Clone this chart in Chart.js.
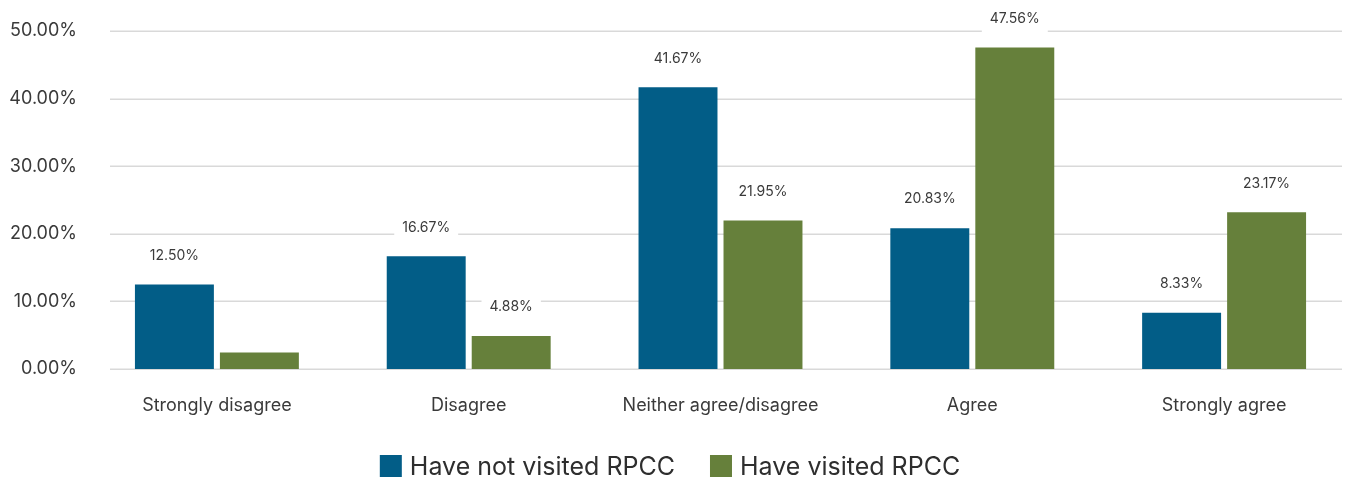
<!DOCTYPE html>
<html>
<head>
<meta charset="utf-8">
<script src="https://cdn.jsdelivr.net/npm/chart.js@4.4.0/dist/chart.umd.min.js"></script>
<style>
html,body{margin:0;padding:0;background:#fff;overflow:hidden;}
#wrap{width:1350px;height:479px;}
</style>
</head>
<body>
<div id="wrap"><canvas id="c" width="1350" height="479"></canvas></div>
<script>
const categories = ["Strongly disagree", "Disagree", "Neither agree/disagree", "Agree", "Strongly agree"];
const notVisited = [12.50, 16.67, 41.67, 20.83, 8.33];
const visited = [2.44, 4.88, 21.95, 47.56, 23.17];
const notVisitedShowLabel = [true, true, true, true, true];
const visitedShowLabel = [false, true, true, true, true];
const seriesNames = ["Have not visited RPCC", "Have visited RPCC"];
const seriesColors = ["#025d87", "#66803b"];
const yTicks = [0, 10, 20, 30, 40, 50];

const FONT = "Inter, Lato, 'Noto Sans', sans-serif";
const TEXT = "#3a3a3a";

const gridPlugin = {
  id: 'customGrid',
  beforeDatasetsDraw(chart) {
    const y = chart.scales.y;
    const ctx = chart.ctx;
    ctx.save();
    ctx.strokeStyle = '#d9d9d9';
    ctx.lineWidth = 1.5;
    yTicks.forEach(v => {
      const py = Math.round(y.getPixelForValue(v)) + 0.25;
      ctx.beginPath();
      ctx.moveTo(110, py);
      ctx.lineTo(1342, py);
      ctx.stroke();
    });
    ctx.restore();
  }
};

const labelPlugin = {
  id: 'valueLabels',
  afterDatasetsDraw(chart) {
    const ctx = chart.ctx;
    ctx.save();
    ctx.font = "14px " + FONT;
    ctx.textAlign = 'center';
    ctx.textBaseline = 'middle';
    chart.data.datasets.forEach((ds, di) => {
      const meta = chart.getDatasetMeta(di);
      meta.data.forEach((bar, i) => {
        if (!ds.showLabel[i]) return;
        const txt = ds.data[i].toFixed(2) + '%';
        const cy = bar.y - 29;
        const w = ctx.measureText(txt).width + 16;
        ctx.fillStyle = '#ffffff';
        ctx.fillRect(bar.x - w / 2, cy - 14, w, 29);
        ctx.fillStyle = TEXT;
        ctx.fillText(txt, bar.x, cy);
      });
    });
    ctx.restore();
  }
};

const legendPlugin = {
  id: 'customLegend',
  afterDraw(chart) {
    const ctx = chart.ctx;
    ctx.save();
    ctx.font = "25px " + FONT;
    ctx.textBaseline = 'middle';
    ctx.textAlign = 'left';
    const box = 22, gapText = 8, gapItem = 35;
    const widths = seriesNames.map(n => box + gapText + ctx.measureText(n).width);
    const total = widths.reduce((a, b) => a + b, 0) + gapItem * (widths.length - 1);
    let x = 670 - total / 2;
    const cy = 466;
    seriesNames.forEach((n, i) => {
      ctx.fillStyle = seriesColors[i];
      ctx.fillRect(x, cy - 11, box, box);
      ctx.fillStyle = '#2e2e2e';
      ctx.fillText(n, x + box + gapText, cy + 1);
      x += widths[i] + gapItem;
    });
    ctx.restore();
  }
};

new Chart(document.getElementById('c'), {
  type: 'bar',
  data: {
    labels: categories,
    datasets: [
      { label: seriesNames[0], data: notVisited, showLabel: notVisitedShowLabel, backgroundColor: seriesColors[0], borderWidth: 0 },
      { label: seriesNames[1], data: visited, showLabel: visitedShowLabel, backgroundColor: seriesColors[1], borderWidth: 0 }
    ]
  },
  options: {
    responsive: false,
    animation: false,
    devicePixelRatio: 1,
    layout: { padding: { top: 31, right: 0, left: 0, bottom: 0 } },
    datasets: { bar: { categoryPercentage: 0.675, barPercentage: 0.929 } },
    plugins: {
      legend: { display: false },
      tooltip: { enabled: false }
    },
    scales: {
      x: {
        afterFit(scale) { scale.height = 110; },
        grid: { display: false, drawTicks: false },
        border: { display: false },
        ticks: { font: { family: FONT, size: 18 }, color: TEXT, padding: 26 },
      },
      y: {
        min: 0, max: 50,
        afterBuildTicks(scale) { scale.ticks = yTicks.map(v => ({ value: v })); },
        afterFit(scale) { scale.width = 91; },
        grid: { display: false, drawTicks: false },
        border: { display: false },
        ticks: {
          font: { family: FONT, size: 18 }, color: TEXT, padding: 14,
          callback: v => v.toFixed(2) + '%'
        }
      }
    }
  },
  plugins: [gridPlugin, labelPlugin, legendPlugin]
});
</script>
</body>
</html>
